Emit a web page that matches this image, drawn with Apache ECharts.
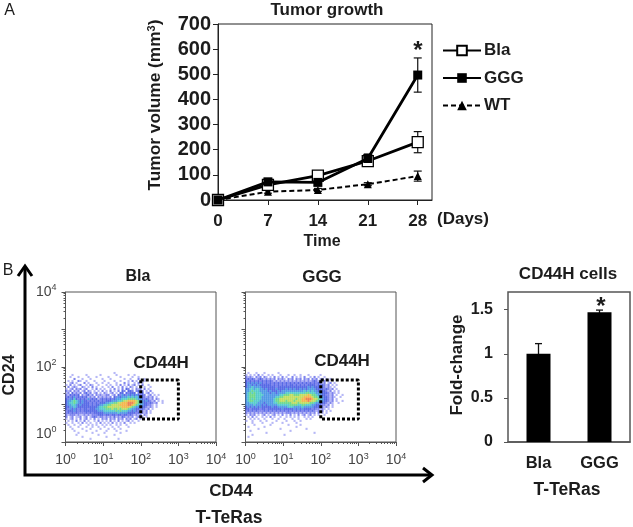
<!DOCTYPE html>
<html>
<head>
<meta charset="utf-8">
<style>html,body{margin:0;padding:0;background:#fff}#c{width:633px;height:527px}</style>
<script src="https://cdn.jsdelivr.net/npm/echarts@6/dist/echarts.min.js"></script>
</head>
<body>
<div id="c"></div>
<script>
// ---------- Panel A data ----------
const days = [0, 7, 14, 21, 28];
const blaVol = [0, 60, 97, 155, 230];
const blaErr = [0, 14, 12, 16, 42];
const gggVol = [0, 72, 70, 165, 497];
const gggErr = [0, 14, 12, 18, 68];
const wtVol = [0, 33, 40, 63, 95];
const wtErr = [0, 6, 6, 6, 20];

// ---------- Panel B bar data ----------
const barCats = ['Bla', 'GGG'];
const foldChange = [1.0, 1.47];
const foldErr = [0.115, 0.025];
const foldTicks = [0, 0.5, 1, 1.5];

// ---------- Panel B flow density, read by eye: one digit per cell, rows top to bottom ----------
const blaDensity = [
'000000000000000000000000000000000000000000000000000',
'000000000000000000000000100000000000000000000000000',
'000100000010000001000000010000010010000000000000000',
'001000100001000100000100000100000100100000000000000',
'000020001000100000100010000001001000200100000000000',
'010100210010001000010000100100010201000100000000000',
'001201000201000100100100010002010010201000000000000',
'102010120010210010001010010201020120102001000000000',
'020121002101020100100102001020102101020100100000000',
'101202120120010201010010201020320102120201000000000',
'212021201202101010201020102032033202312010200000000',
'120312120231201201021012010330323330223012010000000',
'213232302123120212112201203243243434323201201010000',
'232342323231212021212120324344454545433212120100000',
'324353232324232312323232344455566665443232120210000',
'344565434332323232323334445567788887654343212010100',
'345565434333232323334455667788899987654332321200100',
'344554343333232334455667777888899876544332210100000',
'334454333333333345566777777788887654433321210100000',
'324343232332333445556667667677765443323212010000000',
'233343232333333344455555565655544343232120100000000',
'232323222232323333344444445444433332312120100000000',
'212221211212122233323323323323323212120210000000000',
'201201120120123212212121312132121201201010000000000',
'101201020120102010212021202120212012010000000000000',
'010102010201001020101020102010120100100000000000000',
'100100102010100102010102010102001010000000000000000',
'010010010001010100101010010100100000000000000000000',
'001000100010010010010001001000010000000000000000000',
'000100001000100001000100100100000000000000000000000',
'000010000010000100001000010000100000000000000000000',
'000000100000010000010000000100000000000000000000000',
'000001000000000010000000100000000000000000000000000',
'000000001000000000001000000000000000000000000000000',
'000000000000100000000000001000000000000000000000000'
];
const gggDensity = [
'000000000000000000000000000000000000000000000000000',
'010001000100000010000000000000000000000000000000000',
'101010201001010001000100100100010000010000000000000',
'212102120210102010201002010102001020100100000000000',
'232321232121212021210212021202120212012010100000000',
'323232323232321212121212121212121232120201000000000',
'343434343232323232323232323232323232321201201000000',
'344343433333323232323233232323233332323212010100000',
'344544443333333233333333333333343433323212101000000',
'445545544343333433334343433434344443333232120100000',
'445655544443433343444444444445454544343321201010000',
'456565554444344344445555555555665554443332121010000',
'456665555444444445566677666777787665443322120100100',
'456665554444444556677777777778888766544332121001000',
'456565554444445667777777767788999877654332120100000',
'456655544444445667776777677788898776544332120100100',
'445555444344445566666667776777776654433321210010000',
'444454443434444455555566665566555443332212010000000',
'343434343333343344444555444454444433322121010000000',
'332333323323333333433333434343333232212101000000000',
'232323222323232323232323232323232321212010100000000',
'212121212121212121212221212121212120201010000000000',
'102120101201012010201020102012012010100100000000000',
'010201001010201001001010101001010100000000000000000',
'001010100100010010010001001000101000000000000000000',
'100100010010000100001000100100000000000000000000000',
'000100001000010000100000010000000000000000000000000',
'000010000000100000000100000100000000000000000000000',
'010000000100000000000000010000000000000000000000000',
'000000100000000001000000000000100000000000000000000',
'001000000000000000000010000000000000000000000000000',
'000000000010000000000000000000000010000000000000000',
'000100000000000000010000000000000000000000000000000',
'010000000000000000000000000000000000000000000000000'
];
const densityColors = ['#ffffff','#a4a6f4','#5f66ea','#3046e0','#2a82e0','#2fc0c0','#4fd070','#b4d63c','#f2a524','#e8622a'];
const cellLog = 0.0532;        // cell size in decades
const cloudLeftLog = 0;        // log10 of CD44 at the left of the density table
const cloudTopLog = 1.92;      // log10 of CD24 at the top of the density table

// Gate rectangle corners (CD44, CD24)
const gateX = [100, 1000, 1000, 100, 100];
const gateY = [45, 45, 4.1, 4.1, 45];

const flowYLabels = [1, 100, 10000];
const flowMinor = [2,3,4,5,6,7,8,9,20,30,40,50,60,70,80,90,200,300,400,500,600,700,800,900,2000,3000,4000,5000,6000,7000,8000,9000];

// ---------- helpers ----------
const FONT = '"Liberation Sans", Arial, sans-serif';
const INK = '#1c1c1c';
function densityPoints(rows) {
  const pts = [];
  rows.forEach((row, r) => {
    for (let c = 0; c < row.length; c++) {
      const d = +row[c];
      if (d > 0) pts.push([
        Math.pow(10, cloudLeftLog + (c + 0.5) * cellLog),
        Math.pow(10, cloudTopLog - (r + 0.5) * cellLog),
        d
      ]);
    }
  });
  return pts;
}
function errorSeries(xs, ys, es, xAxisIndex, yAxisIndex, cap, width, z) {
  return {
    type: 'custom', xAxisIndex, yAxisIndex, z, silent: true,
    data: ys.map((y, i) => [xs[i], y, es[i]]),
    encode: { x: 0, y: 1 },
    renderItem(params, api) {
      const x = api.value(0), y = api.value(1), e = api.value(2);
      const hi = api.coord([x, y + e]), lo = api.coord([x, y - e]);
      const style = { stroke: '#111', lineWidth: width, fill: null };
      return { type: 'group', children: [
        { type: 'line', shape: { x1: hi[0], y1: hi[1], x2: lo[0], y2: lo[1] }, style },
        { type: 'line', shape: { x1: hi[0] - cap, y1: hi[1], x2: hi[0] + cap, y2: hi[1] }, style },
        { type: 'line', shape: { x1: lo[0] - cap, y1: lo[1], x2: lo[0] + cap, y2: lo[1] }, style }
      ]};
    }
  };
}
function txt(text, x, y, size, opt) {
  opt = opt || {};
  return { type: 'text', x, y, rotation: opt.rot || 0, z: 50, silent: true, style: {
    text, x: 0, y: 0, fontFamily: FONT, fontSize: size, fontWeight: opt.weight || 'bold',
    fill: opt.fill || INK, align: 'center', verticalAlign: 'middle' } };
}
const FRAME = '#555';
function flowAxes(gridIndex, withYLabels) {
  const common = { type: 'log', logBase: 10, min: 1, max: 10000, gridIndex, splitLine: { show: false }, minorTick: { show: false } };
  const labelRich = {
    s: { fontSize: 9, fontFamily: FONT, color: '#444', padding: [0, 0, 8, 0] },
    m: { fontSize: 14, fontFamily: FONT, color: '#444', padding: [0, 0, 16, 0] },
    n: { fontSize: 9, fontFamily: FONT, color: '#444', padding: [0, 0, 24, 0] }
  };
  return {
    x: [
      Object.assign({}, common, { position: 'bottom',
        axisLine: { show: true, onZero: false, lineStyle: { color: FRAME, width: 1 } },
        axisTick: { show: true, length: 4, lineStyle: { color: FRAME } },
        axisLabel: { show: true, margin: 10, fontFamily: FONT, fontSize: 14, color: '#444', rich: labelRich,
          formatter: v => '10{s|' + Math.round(Math.log10(v)) + '}' } }),
      Object.assign({}, common, { position: 'bottom',
        axisLine: { show: false }, axisLabel: { show: false },
        axisTick: { show: true, length: 2, customValues: flowMinor, lineStyle: { color: FRAME } } })
    ],
    y: [
      Object.assign({}, common, { position: 'left',
        axisLine: { show: true, onZero: false, lineStyle: { color: FRAME, width: 1 } },
        axisTick: { show: true, length: 4, lineStyle: { color: FRAME } },
        axisLabel: { show: withYLabels, margin: 9, fontFamily: FONT, fontSize: 14, color: '#444', rich: labelRich,
          customValues: flowYLabels,
          formatter: v => v === 1 ? '{m|10}{n|0}' : '10{s|' + Math.round(Math.log10(v)) + '}' } }),
      Object.assign({}, common, { position: 'left',
        axisLine: { show: false }, axisLabel: { show: false },
        axisTick: { show: true, length: 2, customValues: flowMinor, lineStyle: { color: FRAME } } })
    ]
  };
}
function flowSeries(rows, x, y) {
  return [
    { type: 'scatter', xAxisIndex: x, yAxisIndex: y, symbol: 'rect', symbolSize: 2.1, silent: true, z: 2,
      data: densityPoints(rows),
      itemStyle: { color: p => densityColors[p.value[2]] } },
    { type: 'line', xAxisIndex: x, yAxisIndex: y, symbol: 'none', silent: true, z: 5,
      data: gateX.map((v, i) => [v, gateY[i]]),
      lineStyle: { color: '#000', width: 3, type: [3, 2] } }
  ];
}
const flowA = flowAxes(1, true), flowB = flowAxes(2, false);

const option = {
  animation: false,
  backgroundColor: '#fff',
  textStyle: { fontFamily: FONT },
  grid: [
    { left: 218, top: 24, width: 214, height: 176, show: true, borderColor: '#222', borderWidth: 1, backgroundColor: 'transparent' },
    { left: 65.5, top: 292, width: 150.5, height: 150, show: true, borderColor: FRAME, borderWidth: 1, backgroundColor: 'transparent' },
    { left: 245.5, top: 292, width: 150.5, height: 150, show: true, borderColor: FRAME, borderWidth: 1, backgroundColor: 'transparent' },
    { left: 508, top: 292, width: 122, height: 150, show: true, borderColor: FRAME, borderWidth: 1.5, backgroundColor: 'transparent' }
  ],
  xAxis: [
    { type: 'value', gridIndex: 0, min: 0, max: 30, position: 'bottom', splitLine: { show: false },
      axisLine: { onZero: false, lineStyle: { color: '#222', width: 1 } },
      axisTick: { show: true, length: 5, customValues: days, lineStyle: { color: '#222' } },
      axisLabel: { customValues: days, margin: 13, fontFamily: FONT, fontSize: 17, fontWeight: 'bold', color: INK } },
    flowA.x[0], flowA.x[1], flowB.x[0], flowB.x[1],
    { type: 'category', gridIndex: 3, data: barCats, position: 'bottom',
      axisLine: { onZero: false, lineStyle: { color: FRAME, width: 1.5 } }, axisTick: { show: false },
      axisLabel: { margin: 13, fontFamily: FONT, fontSize: 16.5, fontWeight: 'bold', color: INK } }
  ],
  yAxis: [
    { type: 'value', gridIndex: 0, min: 0, max: 700, interval: 100, position: 'left', splitLine: { show: false },
      name: 'Tumor volume (mm{s|3})', nameLocation: 'middle', nameGap: 53, nameRotate: 90,
      nameTextStyle: { fontFamily: FONT, fontSize: 17.3, fontWeight: 'bold', color: INK, padding: [0, 0, 0, 14],
        rich: { s: { fontFamily: FONT, fontSize: 11, fontWeight: 'bold', color: INK, padding: [0, 0, 8, 0] } } },
      axisLine: { onZero: false, lineStyle: { color: '#222', width: 1 } },
      axisTick: { show: true, length: 5, lineStyle: { color: '#222' } },
      axisLabel: { margin: 7, fontFamily: FONT, fontSize: 20, fontWeight: 'bold', color: INK } },
    flowA.y[0], flowA.y[1], flowB.y[0], flowB.y[1],
    { type: 'value', gridIndex: 3, min: 0, max: 1.7, position: 'left', splitLine: { show: false },
      axisLine: { onZero: false, lineStyle: { color: FRAME, width: 1.5 } },
      axisTick: { show: true, length: 4, customValues: foldTicks, lineStyle: { color: FRAME } },
      axisLabel: { customValues: foldTicks, margin: 15, fontFamily: FONT, fontSize: 16, fontWeight: 'bold', color: INK } }
  ],
  legend: {
    orient: 'vertical', left: 437, top: 37, itemWidth: 38, itemHeight: 12, itemGap: 10.5,
    data: ['Bla', 'GGG', 'WT'], selectedMode: false,
    textStyle: { fontFamily: FONT, fontSize: 17, fontWeight: 'bold', color: INK, padding: [0, 0, 0, -2] }
  },
  series: [
    errorSeries(days, wtVol, wtErr, 0, 0, 4, 1.2, 1),
    errorSeries(days, blaVol, blaErr, 0, 0, 4, 1.2, 1),
    errorSeries(days, gggVol, gggErr, 0, 0, 4, 1.2, 1),
    { name: 'WT', type: 'line', xAxisIndex: 0, yAxisIndex: 0, z: 3, data: days.map((d, i) => [d, wtVol[i]]),
      symbol: 'triangle', symbolSize: 8, lineStyle: { color: '#000', width: 2, type: [5, 3] }, itemStyle: { color: '#000' } },
    { name: 'Bla', type: 'line', xAxisIndex: 0, yAxisIndex: 0, z: 4, data: days.map((d, i) => [d, blaVol[i]]),
      symbol: 'rect', symbolSize: 11, lineStyle: { color: '#000', width: 2.8 },
      itemStyle: { color: '#fff', borderColor: '#000', borderWidth: 1.3 } },
    { name: 'GGG', type: 'line', xAxisIndex: 0, yAxisIndex: 0, z: 5, data: days.map((d, i) => [d, gggVol[i]]),
      symbol: 'rect', symbolSize: 9, lineStyle: { color: '#000', width: 2.8 }, itemStyle: { color: '#000' } },
    ...flowSeries(blaDensity, 1, 1),
    ...flowSeries(gggDensity, 3, 3),
    { type: 'bar', xAxisIndex: 5, yAxisIndex: 5, data: foldChange, barWidth: 24, itemStyle: { color: '#000' }, z: 2, silent: true },
    errorSeries(barCats.map((c, i) => i), foldChange, foldErr, 5, 5, 3.5, 1.3, 1)
  ],
  graphic: { elements: [
    txt('A', 9.5, 10.5, 16, { weight: 'normal' }),
    txt('B', 8, 271, 16, { weight: 'normal' }),
    txt('Tumor growth', 327, 10, 17),
    txt('*', 418, 51, 24),
    txt('(Days)', 463, 219, 17),
    txt('Time', 322, 242, 16),
    txt('Bla', 138, 277, 16),
    txt('GGG', 322, 277, 17),
    txt('CD44H', 161, 363, 17),
    txt('CD44H', 342, 361, 17),
    txt('CD24', 10, 375, 16, { rot: Math.PI / 2 }),
    txt('CD44', 231, 491, 17),
    txt('T-TeRas', 229, 518, 17.5),
    txt('CD44H cells', 568, 274, 17),
    txt('Fold-change', 457, 365, 17, { rot: Math.PI / 2 }),
    txt('*', 601, 307, 24),
    txt('T-TeRas', 567, 490, 17.5),
    { type: 'polyline', z: 40, silent: true, shape: { points: [[25, 267], [25, 475], [431, 475]] },
      style: { stroke: '#000', lineWidth: 3, fill: null } },
    { type: 'polyline', z: 40, silent: true, shape: { points: [[18, 276], [25, 266], [32, 276]] },
      style: { stroke: '#000', lineWidth: 3, fill: null } },
    { type: 'polyline', z: 40, silent: true, shape: { points: [[423, 468], [432, 475], [423, 482]] },
      style: { stroke: '#000', lineWidth: 3, fill: null } }
  ] }
};
const chart = echarts.init(document.getElementById('c'), null, { renderer: 'canvas', width: 633, height: 527 });
chart.setOption(option);
</script>
</body>
</html>
